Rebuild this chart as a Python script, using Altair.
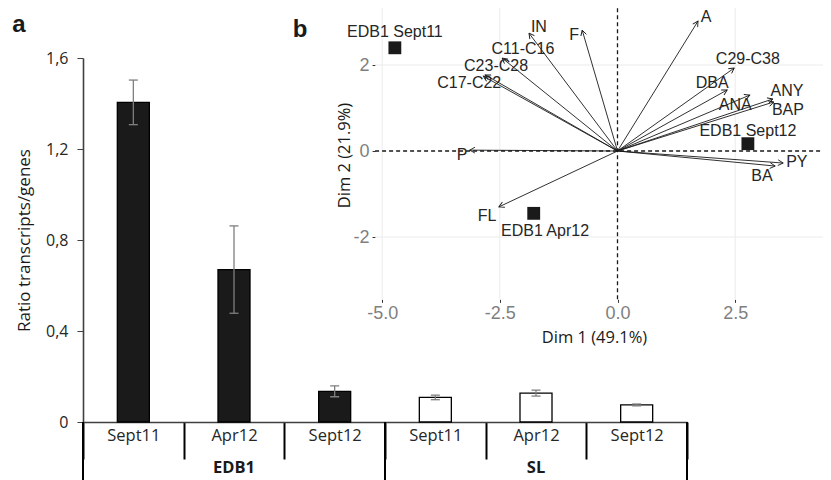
import altair as alt
import numpy as np
import pandas as pd

# ---------------- panel a : bar chart ----------------
groups = ["EDB1", "EDB1", "EDB1", "SL", "SL", "SL"]
periods = ["Sept11", "Apr12", "Sept12", "Sept11", "Apr12", "Sept12"]
ratio = [1.405, 0.670, 0.135, 0.108, 0.127, 0.075]
ratio_err = [0.098, 0.192, 0.024, 0.010, 0.013, 0.004]
ratio_ticks = [0, 0.4, 0.8, 1.2, 1.6]
group_names = ["EDB1", "SL"]

# ---------------- panel b : PCA biplot ----------------
var_names = ["A", "C29-C38", "DBA", "ANA", "ANY", "BAP", "PY", "BA",
             "F", "IN", "C11-C16", "C23-C28", "C17-C22", "P", "FL"]
var_dim1 = [1.71, 2.48, 2.33, 2.81, 3.30, 3.32, 3.52, 3.35,
            -0.75, -1.88, -2.45, -2.81, -2.85, -3.14, -2.52]
var_dim2 = [3.02, 1.93, 1.42, 1.30, 1.21, 1.14, -0.28, -0.35,
            2.81, 2.74, 2.16, 1.77, 1.74, 0.02, -1.30]
var_lab_dim1 = [1.88, 2.77, 2.01, 2.50, 3.60, 3.62, 3.81, 3.07,
                -0.92, -1.67, -2.01, -2.58, -3.15, -3.30, -2.77]
var_lab_dim2 = [3.12, 2.14, 1.58, 1.07, 1.40, 0.95, -0.26, -0.58,
                2.70, 2.88, 2.37, 1.97, 1.58, -0.09, -1.51]

site_names = ["EDB1 Sept11", "EDB1 Apr12", "EDB1 Sept12"]
site_dim1 = [-4.73, -1.78, 2.77]
site_dim2 = [2.40, -1.45, 0.17]
site_lab_dim1 = [-4.73, -1.54, 2.77]
site_lab_dim2 = [2.77, -1.86, 0.47]

dim1_ticks = [-5.0, -2.5, 0.0, 2.5]
dim2_ticks = [-2, 0, 2]
dim1_grid = [-5.0, -2.5, 2.5]
dim2_grid = [-2, 2]
dim1_domain = [-5.15, 4.5]
dim2_domain = [-3.45, 3.35]

# ---------------- layout (pixels, view coordinates) ----------------
W, H = 740, 414
A_XRANGE = [0, 604]
A_YRANGE = [414, 50]
BX0, BSX = 534.5, 47.07   # pixel of dim1 = 0, px per unit
BY0, BSY = 143.0, 43.0    # pixel of dim2 = 0, px per unit
B_XRANGE = [BX0 + dim1_domain[0] * BSX, BX0 + dim1_domain[1] * BSX]
B_YRANGE = [BY0 - dim2_domain[0] * BSY, BY0 - dim2_domain[1] * BSY]

SANS = "Open Sans"
ARIAL = "Liberation Sans"

# ---------------- tables ----------------
cats = [g + "|" + p for g, p in zip(groups, periods)]
df_a = pd.DataFrame({"cat": cats, "group": groups, "period": periods,
                     "value": ratio, "err": ratio_err})
df_a["lo"] = df_a["value"] - df_a["err"]
df_a["hi"] = df_a["value"] + df_a["err"]

members = {n: [c for c, g in zip(cats, groups) if g == n] for n in group_names}
df_g = pd.DataFrame({
    "group": group_names,
    "first": [members[n][0] for n in group_names],
    "mid": [members[n][len(members[n]) // 2] for n in group_names],
    "last": [members[n][-1] for n in group_names],
})

df_v = pd.DataFrame({"name": var_names, "x": var_dim1, "y": var_dim2,
                     "lx": var_lab_dim1, "ly": var_lab_dim2})
df_v["x0"] = 0.0
df_v["y0"] = 0.0
df_v["ang"] = (np.degrees(np.arctan2(df_v["x"] * BSX, df_v["y"] * BSY)) + 360) % 360

df_s = pd.DataFrame({"name": site_names, "x": site_dim1, "y": site_dim2,
                     "lx": site_lab_dim1, "ly": site_lab_dim2})
df_gx = pd.DataFrame({"gx": dim1_grid})
df_gx["lo"] = dim2_domain[0]
df_gx["hi"] = dim2_domain[1]
df_gy = pd.DataFrame({"gy": dim2_grid})
df_gy["lo"] = dim1_domain[0]
df_gy["hi"] = dim1_domain[1]
df_zero = pd.DataFrame({"z": [0.0], "xlo": [dim1_domain[0]], "xhi": [dim1_domain[1]],
                        "ylo": [dim2_domain[0]], "yhi": [dim2_domain[1]]})
one = pd.DataFrame({"k": [0]})

# ---------------- panel a ----------------
sa_x = alt.Scale(domain=cats, range=A_XRANGE, paddingInner=0, paddingOuter=0)
sa_y = alt.Scale(domain=[0, 1.6], range=A_YRANGE, nice=False, zero=True)
ax_ax = alt.Axis(title=None, orient="bottom", tickBand="extent", tickSize=37, tickWidth=2,
                 tickColor="black", domainColor="#404040", domainWidth=1.6,
                 labelExpr="split(datum.value, '|')[1]", labelAngle=0,
                 labelFont=SANS, labelFontSize=16.5, labelColor="#262626",
                 labelPadding=-32, labelBaseline="top", grid=False)
ax_ay = alt.Axis(title="Ratio transcripts/genes", orient="left", values=ratio_ticks,
                 labelExpr="datum.value == 0 ? '0' : replace(format(datum.value, '.1f'), '.', ',')",
                 labelFont=SANS, labelFontSize=16, labelColor="#262626", labelPadding=9,
                 tickSize=6, tickColor="#404040", domainColor="#404040", domainWidth=1.6,
                 grid=False, titleFont=SANS, titleFontSize=17, titleFontWeight="normal",
                 titleColor="#1a1a1a", titleX=-59, titleY=232, titleBaseline="middle",
                 titleAngle=270)


def xa(field, axis=None, **kw):
    return alt.X(field, type="nominal", scale=sa_x, axis=axis, **kw)


def ya(field, axis=None):
    return alt.Y(field, type="quantitative", scale=sa_y, axis=axis)


bars = alt.Chart(df_a).mark_bar(width=alt.RelativeBandSize(0.318), stroke="black",
                                strokeWidth=1.3).encode(
    x=xa("cat", axis=ax_ax), y=ya("value", axis=ax_ay),
    fill=alt.Fill("group:N", scale=alt.Scale(domain=group_names, range=["#1a1a1a", "#ffffff"]),
                  legend=None))
err = alt.Chart(df_a).mark_rule(color="#7f7f7f", strokeWidth=1.3).encode(
    x=xa("cat"), y=ya("lo"), y2="hi:Q")
cap_lo = alt.Chart(df_a).mark_tick(orient="horizontal", size=9, thickness=1.3,
                                   color="#7f7f7f", opacity=1).encode(x=xa("cat"), y=ya("lo"))
cap_hi = alt.Chart(df_a).mark_tick(orient="horizontal", size=9, thickness=1.3,
                                   color="#7f7f7f", opacity=1).encode(x=xa("cat"), y=ya("hi"))
sep_first = alt.Chart(df_g).mark_rule(color="black", strokeWidth=2).encode(
    x=xa("first", bandPosition=0), y=alt.value(414), y2=alt.value(472))
sep_last = alt.Chart(df_g).mark_rule(color="black", strokeWidth=2).encode(
    x=xa("last", bandPosition=1), y=alt.value(414), y2=alt.value(472))
grp_text = alt.Chart(df_g).mark_text(font=SANS, fontSize=16.5, fontWeight="bold",
                                     color="#1a1a1a", baseline="alphabetic").encode(
    x=xa("mid"), y=alt.value(465), text="group:N")
letter_a = alt.Chart(one).mark_text(text="a", font=ARIAL, fontSize=24, fontWeight="bold",
                                    color="#1a1a1a", baseline="alphabetic", align="center").encode(
    x=alt.value(-64), y=alt.value(24))

# ---------------- panel b ----------------
neg_fmt = "(datum.value < 0 ? '-' : '') + format(abs(datum.value), '{f}')"
sb_x = alt.Scale(domain=dim1_domain, range=B_XRANGE, nice=False, zero=False)
sb_y = alt.Scale(domain=dim2_domain, range=B_YRANGE, nice=False, zero=False)
ax_bx = alt.Axis(title="Dim 1 (49.1%)", orient="bottom", offset=-(H - B_YRANGE[0]),
                 values=dim1_ticks, labelExpr=neg_fmt.replace("{f}", ".1f"),
                 grid=False, domain=False,
                 tickSize=3, tickColor="#333333", labelFont=ARIAL, labelFontSize=18,
                 labelColor="#7f7f7f", labelPadding=2,
                 titleFont=SANS, titleFontSize=16.5, titleFontWeight="normal",
                 titleColor="#1a1a1a", titleX=511, titleY=38, titleBaseline="middle")
ax_by = alt.Axis(title="Dim 2 (21.9%)", orient="left", offset=-B_XRANGE[0],
                 values=dim2_ticks, labelExpr=neg_fmt.replace("{f}", "d"),
                 grid=False, domain=False,
                 tickSize=3, tickColor="#333333", labelFont=ARIAL, labelFontSize=18,
                 labelColor="#7f7f7f", labelPadding=3,
                 titleFont=SANS, titleFontSize=16.5, titleFontWeight="normal",
                 titleColor="#1a1a1a", titleX=-31, titleY=147, titleBaseline="middle",
                 titleAngle=270)


def xb(field, axis=None):
    return alt.X(field, type="quantitative", scale=sb_x, axis=axis)


def yb(field, axis=None):
    return alt.Y(field, type="quantitative", scale=sb_y, axis=axis)


grid_v = alt.Chart(df_gx).mark_rule(color="#ebebeb", strokeWidth=1).encode(
    x=xb("gx", axis=ax_bx), y=yb("lo"), y2="hi:Q")
grid_h = alt.Chart(df_gy).mark_rule(color="#ebebeb", strokeWidth=1).encode(
    y=yb("gy", axis=ax_by), x=xb("lo"), x2="hi:Q")
zero_v = alt.Chart(df_zero).mark_rule(color="#1a1a1a", strokeWidth=1.3, strokeDash=[4, 3]).encode(
    x=xb("z"), y=yb("ylo"), y2="yhi:Q")
zero_h = alt.Chart(df_zero).mark_rule(color="#1a1a1a", strokeWidth=1.3, strokeDash=[4, 3]).encode(
    y=yb("z"), x=xb("xlo"), x2="xhi:Q")
arrows = alt.Chart(df_v).mark_rule(color="#1a1a1a", strokeWidth=0.9).encode(
    x=xb("x0"), y=yb("y0"), x2="x:Q", y2="y:Q")
heads = alt.Chart(df_v).mark_point(shape="M-0.55,1L0,0L0.55,1", filled=False, stroke="#1a1a1a",
                                   strokeWidth=0.9, size=110, opacity=1).encode(
    x=xb("x"), y=yb("y"), angle=alt.Angle("ang:Q", scale=None))
var_text = alt.Chart(df_v).mark_text(font=ARIAL, fontSize=16, color="#262626",
                                     align="center", baseline="middle").encode(
    x=xb("lx"), y=yb("ly"), text="name:N")
sites = alt.Chart(df_s).mark_square(size=165, color="#1a1a1a", opacity=1).encode(
    x=xb("x"), y=yb("y"))
site_text = alt.Chart(df_s).mark_text(font=ARIAL, fontSize=16, color="#262626",
                                      align="center", baseline="middle").encode(
    x=xb("lx"), y=yb("ly"), text="name:N")
letter_b = alt.Chart(one).mark_text(text="b", font=ARIAL, fontSize=24, fontWeight="bold",
                                    color="#1a1a1a", baseline="alphabetic", align="center").encode(
    x=alt.value(217), y=alt.value(29))

chart = alt.layer(
    bars, err, cap_lo, cap_hi, sep_first, sep_last, grp_text, letter_a,
    grid_v, grid_h, zero_v, zero_h, arrows, heads, var_text, sites, site_text, letter_b,
).resolve_scale(
    x="independent", y="independent"
).properties(
    width=W, height=H,
    autosize=alt.AutoSizeParams(type="none"),
    padding={"left": 75, "top": 0, "right": 0, "bottom": 58},
    background="white",
).configure_view(stroke=None)

chart.save("out.html", embed_options={"renderer": "svg", "actions": False})
